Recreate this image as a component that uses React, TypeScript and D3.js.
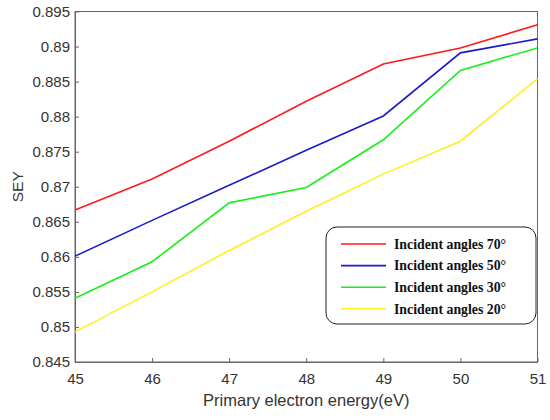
import { useEffect, useRef } from 'react'
import * as d3 from 'd3'

const energies = [45, 46, 47, 48, 49, 50, 51]
const sey70 = [0.8667, 0.8711, 0.8765, 0.8822, 0.8875, 0.8898, 0.8931]
const sey50 = [0.8601, 0.8652, 0.8702, 0.8752, 0.8801, 0.8891, 0.8911]
const sey30 = [0.8541, 0.8593, 0.8677, 0.8699, 0.8767, 0.8866, 0.8898]
const sey20 = [0.8493, 0.8550, 0.8609, 0.8665, 0.8718, 0.8765, 0.8854]
const seriesLabels = ['Incident angles 70°', 'Incident angles 50°', 'Incident angles 30°', 'Incident angles 20°']
const seriesColors = ['#ff1a1a', '#1a1acc', '#1aee1a', '#ffee22']
const yTicks = [0.845, 0.85, 0.855, 0.86, 0.865, 0.87, 0.875, 0.88, 0.885, 0.89, 0.895]

const W = 550
const H = 420

export default function App() {
  const svgRef = useRef<SVGSVGElement>(null)

  useEffect(() => {
    if (!svgRef.current) return
    const svg = d3.select(svgRef.current)
    svg.selectAll('*').remove()

    const left = 75, right = 537.5, top = 11.5, bottom = 362
    const x = d3.scaleLinear().domain([45, 51]).range([left, right])
    const y = d3.scaleLinear().domain([0.845, 0.895]).range([bottom, top])
    const font = 'Liberation Sans, Arial, sans-serif'

    svg.append('rect').attr('width', W).attr('height', H).attr('fill', 'white')

    // box
    svg.append('rect')
      .attr('x', left).attr('y', top)
      .attr('width', right - left).attr('height', bottom - top)
      .attr('fill', 'none').attr('stroke', '#666').attr('stroke-width', 1)

    const xAxis = svg.append('g')
      .attr('transform', `translate(0,${bottom})`)
      .call(d3.axisBottom(x).tickValues(energies).tickSizeInner(-4).tickSizeOuter(0).tickPadding(11).tickFormat(d3.format('d')))
    xAxis.select('.domain').attr('stroke', '#666')
    xAxis.selectAll('line').attr('stroke', '#666')
    xAxis.selectAll('text').attr('font-family', font).attr('font-size', 15).attr('fill', '#333')

    const yAxis = svg.append('g')
      .attr('transform', `translate(${left},0)`)
      .call(d3.axisLeft(y).tickValues(yTicks).tickSizeInner(-4).tickSizeOuter(0).tickPadding(5).tickFormat(d => String(+(+d).toFixed(3))))
    yAxis.select('.domain').attr('stroke', '#666')
    yAxis.selectAll('line').attr('stroke', '#666')
    yAxis.selectAll('text').attr('font-family', font).attr('font-size', 15).attr('fill', '#333')

    svg.append('text')
      .attr('x', (left + right) / 2).attr('y', 406)
      .attr('text-anchor', 'middle')
      .attr('font-family', font).attr('font-size', 16.5).attr('fill', '#333')
      .text('Primary electron energy(eV)')

    svg.append('text')
      .attr('transform', `translate(23,${(top + bottom) / 2}) rotate(-90)`)
      .attr('text-anchor', 'middle')
      .attr('font-family', font).attr('font-size', 15.5).attr('fill', '#333')
      .text('SEY')

    const allSeries = [sey70, sey50, sey30, sey20]
    const line = d3.line<number>()
      .x((_, i) => x(energies[i]))
      .y(d => y(d))

    allSeries.forEach((vals, k) => {
      svg.append('path')
        .datum(vals)
        .attr('d', line)
        .attr('fill', 'none')
        .attr('stroke', seriesColors[k])
        .attr('stroke-width', 1.6)
    })

    // legend
    const lg = svg.append('g')
    lg.append('rect')
      .attr('x', 326).attr('y', 227)
      .attr('width', 210).attr('height', 97)
      .attr('rx', 11).attr('ry', 11)
      .attr('fill', 'white').attr('stroke', '#222').attr('stroke-width', 1)
    seriesLabels.forEach((lab, k) => {
      const yy = 244 + k * 21.6
      lg.append('line')
        .attr('x1', 341).attr('x2', 386)
        .attr('y1', yy).attr('y2', yy)
        .attr('stroke', seriesColors[k]).attr('stroke-width', 1.6)
      lg.append('text')
        .attr('x', 394).attr('y', yy)
        .attr('dy', '0.35em')
        .attr('font-family', 'Liberation Serif, Times New Roman, serif')
        .attr('font-weight', 'bold')
        .attr('font-size', 13.8)
        .attr('fill', '#111')
        .text(lab)
    })
  }, [])

  return (
    <div style={{ position: 'absolute', left: 0, top: 0 }}>
      <svg ref={svgRef} width={W} height={H} style={{ display: 'block' }} />
    </div>
  )
}
